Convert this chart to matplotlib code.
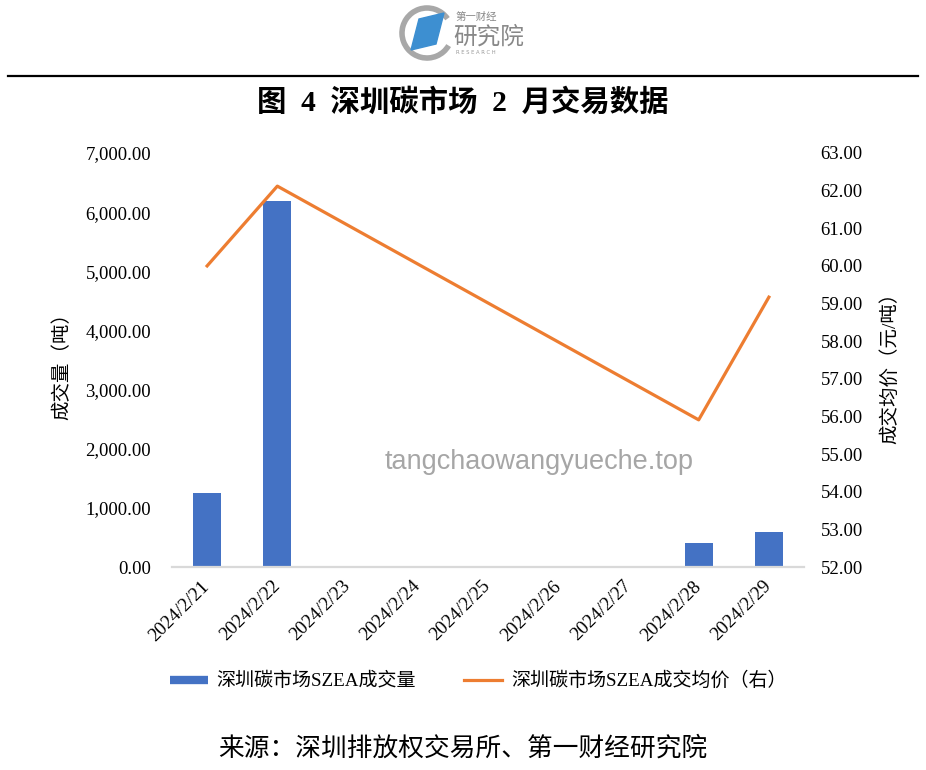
import numpy as np
import matplotlib.pyplot as plt
from matplotlib.lines import Line2D
from matplotlib.patches import Polygon, Arc

dates = ["2024/2/21", "2024/2/22", "2024/2/23", "2024/2/24", "2024/2/25",
         "2024/2/26", "2024/2/27", "2024/2/28", "2024/2/29"]
volume = np.array([1250, 6190, np.nan, np.nan, np.nan, np.nan, np.nan, 410, 595])
price = np.array([60.0, 62.12, np.nan, np.nan, np.nan, np.nan, np.nan, 55.91, 59.17])

left_ticks = np.arange(0, 7001, 1000)
right_ticks = np.arange(52, 63.1, 1)

CJK = ["Liberation Serif", "Noto Sans CJK SC"]
BLUE = "#4472C4"
ORANGE = "#ED7D31"

fig = plt.figure(figsize=(9.26, 7.7), dpi=100)
W, H = 926, 770


def fx(px):
    return px / W


def fy(py):
    return 1 - py / H


# header: logo + rule
fig.add_artist(Arc((fx(427), fy(33)), 50 / W, 50 / H, theta1=40, theta2=325,
                   transform=fig.transFigure, color="#a8a8a8", lw=4))
fig.add_artist(Polygon([(fx(419), fy(19)), (fx(444), fy(13)), (fx(436), fy(44)), (fx(411), fy(50))],
                       closed=True, transform=fig.transFigure, color="#3d8fd1"))
fig.text(fx(456), fy(17), "第一财经", family=CJK, fontsize=7.5, color="#888888", va="center")
fig.text(fx(453), fy(37), "研究院", family=CJK, fontsize=17, color="#888888", va="center")
fig.text(fx(456), fy(53), "R E S E A R C H", family="DejaVu Sans", fontsize=3.8, color="#999999", va="center")
fig.add_artist(Line2D([fx(8), fx(918)], [fy(76), fy(76)], transform=fig.transFigure, color="black", lw=1.6))

fig.text(0.5, fy(103), "图  4  深圳碳市场  2  月交易数据", family=CJK, fontsize=21.2, fontweight="bold",
         ha="center", va="center")

ax = fig.add_axes([fx(172), fy(567), fx(804) - fx(172), fy(153) - fy(567)])
ax2 = ax.twinx()

x = np.arange(len(dates))
ax.bar(x, volume, width=0.4, color=BLUE, zorder=2)
mask = ~np.isnan(price)
ax2.plot(x[mask], price[mask], color=ORANGE, lw=2.3)

ax.set_xlim(-0.5, len(dates) - 0.5)
ax.set_ylim(0, 7000)
ax2.set_ylim(52, 63)
ax.set_yticks(left_ticks)
ax.set_yticklabels([f"{v:,.2f}" for v in left_ticks], family="Liberation Serif", fontsize=13.5)
ax2.set_yticks(right_ticks)
ax2.set_yticklabels([f"{v:.2f}" for v in right_ticks], family="Liberation Serif", fontsize=13.5)
ax.set_xticks(x)
ax.set_xticklabels(dates, family="Liberation Serif", fontsize=13.8, rotation=45,
                   ha="right", va="center", rotation_mode="anchor")

for a in (ax, ax2):
    for s in ("top", "left", "right", "bottom"):
        a.spines[s].set_visible(False)
ax.spines["bottom"].set_visible(True)
ax.spines["bottom"].set_color("#D9D9D9")
ax.spines["bottom"].set_linewidth(1.6)
ax.tick_params(axis="y", length=0, pad=15)
ax.tick_params(axis="x", length=0, pad=12)
ax2.tick_params(axis="y", length=0, pad=12)

fig.text(fx(62), fy(361), "成交量（吨）", family=CJK, fontsize=14, rotation=90, ha="center", va="center")
fig.text(fx(890), fy(363), "成交均价（元/吨）", family=CJK, fontsize=14, rotation=90, ha="center", va="center")

fig.text(fx(539), fy(462), "tangchaowangyueche.top", family="Liberation Sans", fontsize=19.5,
         color="#a6a6a6", ha="center", va="center")

handles = [Line2D([], [], color=BLUE, lw=6, solid_capstyle="butt"),
           Line2D([], [], color=ORANGE, lw=2.3)]
fig.legend(handles, ["深圳碳市场SZEA成交量", "深圳碳市场SZEA成交均价（右）"],
           loc="center", bbox_to_anchor=(fx(478), fy(681)), ncol=2, frameon=False,
           prop={"family": CJK, "size": 13.7}, handlelength=2.0, handletextpad=0.48,
           columnspacing=2.5)

fig.text(0.5, fy(748), "来源：深圳排放权交易所、第一财经研究院", family=CJK, fontsize=18.5,
         ha="center", va="center")

fig.savefig("out.png", dpi=100)
